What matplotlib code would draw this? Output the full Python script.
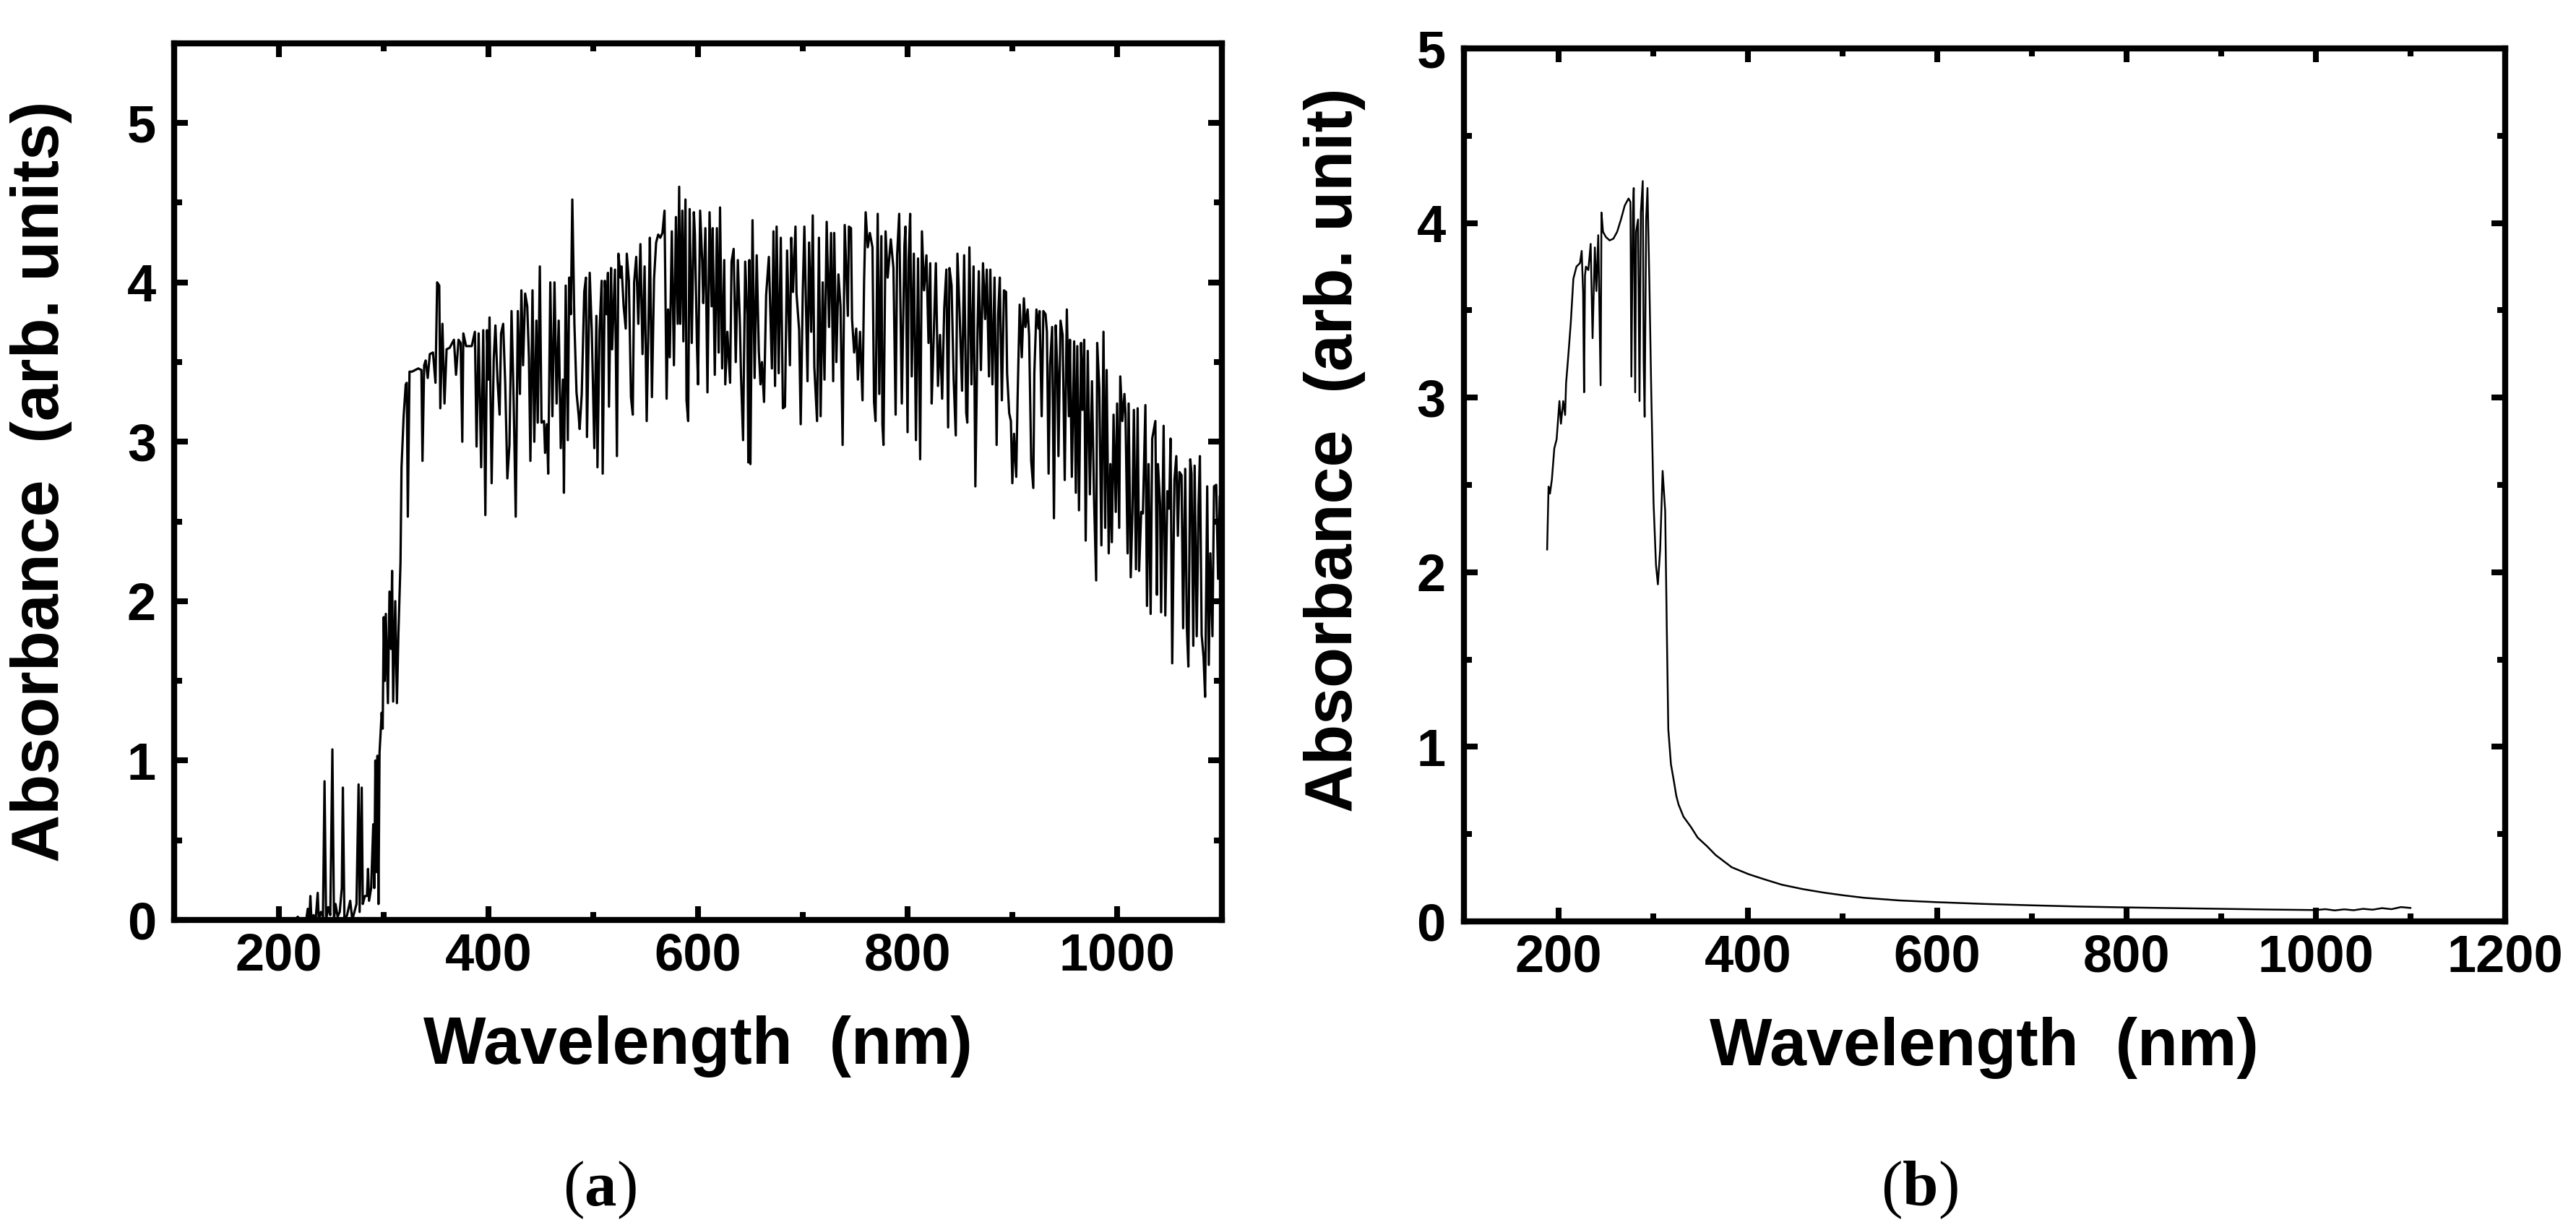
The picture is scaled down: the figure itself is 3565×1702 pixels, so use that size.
import numpy as np
import matplotlib.pyplot as plt
from matplotlib.ticker import MultipleLocator

plt.rcParams['font.family'] = ['Liberation Sans', 'DejaVu Sans']
plt.rcParams['font.weight'] = 'bold'
plt.rcParams['mathtext.fontset'] = 'custom'
plt.rcParams['mathtext.rm'] = 'Liberation Serif'
plt.rcParams['mathtext.bf'] = 'Liberation Serif:bold'

# panel (a): values (nm, absorbance)
wl_a = [215, 218, 220, 226, 227.5, 229, 230, 231, 233, 235, 237, 238, 240, 242, 243.5, 245, 247, 249,
        251, 252.5, 254, 256, 258, 260, 261, 262.5, 265, 268, 270, 272, 274, 276, 277, 279, 280, 282,
        284, 285, 286, 288, 290, 291, 292, 293, 294, 295, 296, 297,
        298, 299, 300, 301, 302, 304, 305.5, 307, 308, 309, 311, 312.6, 314, 316, 317, 319, 321, 322,
        323, 324.6, 327, 330, 333, 336, 337, 338.6, 340, 342, 344, 347, 349.4, 351, 353, 354, 356, 358,
        360, 363, 367, 369, 371.4, 373.4, 375, 376, 378.6, 381, 384, 387, 388.6, 390.6, 393, 395, 397,
        398.6, 400, 401, 403, 405, 406.6, 408.6, 410.6, 412, 414, 416, 418, 420, 422, 424, 426, 428, 430,
        431.4, 433, 435, 437, 438.6, 440, 442, 443.7, 445.7, 447, 449, 450.6, 453, 454, 455.7, 457, 459,
        461, 463, 465, 467, 469, 471, 472, 473.7, 475.7, 477, 478.6, 480, 482, 484, 486, 487, 489, 491.4,
        493, 494, 496.6, 498.6, 501, 503, 504, 506, 508, 509, 511, 512.7, 514, 515, 517, 518, 520.7,
        522.6, 524, 526, 527, 529, 531, 532, 534, 536, 537.7, 539, 541, 543, 545, 547, 549, 551, 553,
        554, 556, 558, 560, 562, 564, 566, 568, 570, 571.4, 573, 575, 577, 578.9, 580.6, 582, 583, 585,
        586, 588, 589, 590.6, 592, 594, 596, 597, 599, 600, 602, 604, 605, 607, 609, 611, 613, 614, 616,
        618, 619.7, 621, 623, 625, 626, 628, 630.6, 632, 634, 636, 638, 640, 641, 643, 645, 647, 648, 649,
        650, 652, 654, 656, 658, 659.6, 661, 663, 665, 667.6, 670.5, 672, 673.5, 675, 677, 679, 681, 683,
        685, 687.7, 689, 690.6, 693, 694, 696.5, 698, 700, 701.5, 704.5, 706, 708, 709.5, 711, 713.6,
        715.4, 717, 719, 720.7, 722.8, 725, 727, 729, 730, 732, 734, 736, 738, 740, 743, 744, 746, 747,
        749, 751, 752.6, 754.6, 757, 758.5, 760, 762, 764, 766.5, 768, 769.4, 771.5, 773, 775, 776, 777,
        779, 781, 784, 786.5, 788.6, 790, 792, 794.5, 797, 798, 800, 801, 802.5, 804, 806, 808, 810, 812,
        813.7, 815.7, 818, 820, 821.6, 823, 824.6, 827, 829, 831, 833, 835, 837, 838.7, 840, 842, 844,
        846, 847.6, 849.7, 852, 854, 856, 857, 859, 861, 863, 864.7, 866.8, 868, 870, 872, 874, 875.6,
        877.7, 879, 881, 883, 885, 886.5, 888, 890, 892, 894, 895, 897, 898.6, 900, 901.6, 903.7, 905,
        907, 909, 911, 912.5, 914.6, 916, 918, 920, 921, 923, 925, 926, 928, 929.6, 931.7, 933, 934.6,
        936, 938, 939.7, 941.4, 943, 944, 946, 948, 950, 952, 954, 955, 956.8, 959, 960.6, 962, 963.6,
        965.6, 967, 968.6, 970, 972, 974, 976, 978, 980, 981, 983, 985, 987, 988.6, 990, 992, 993.6, 995,
        996.6, 998.7, 1000, 1002, 1003, 1005, 1007, 1008, 1010, 1011, 1013, 1014.6, 1016, 1018, 1019.6,
        1021, 1023, 1024.6, 1027, 1028.5, 1030, 1032, 1033.5, 1036.5, 1038, 1039, 1041, 1042, 1044.4,
        1046, 1048, 1049.7, 1051, 1052.6, 1054.7, 1056.5, 1058, 1059.5, 1061.5, 1063, 1065, 1066.5, 1068,
        1069.8, 1071, 1072.7, 1074, 1076, 1077.7, 1079, 1080.7, 1082.5, 1084, 1086, 1087.5, 1089, 1091,
        1092.5, 1094.6, 1096.4, 1098, 1099.3, 1101]
abs_a = [0, 0.02, 0, 0, 0.07, 0, 0.15, 0, 0.03, 0, 0.17, 0, 0.05, 0.02, 0.87, 0, 0.08, 0.03,
         1.07, 0, 0.1, 0.02, 0.05, 0.2, 0.83, 0, 0.03, 0.12, 0, 0.05, 0.1, 0.85, 0.05, 0.83, 0.1, 0.15,
         0.15, 0.32, 0.12, 0.2, 0.6, 0.2, 1.0, 0.3, 1.03, 0.1, 1.05, 1.17,
         1.3, 1.2, 1.9, 1.5, 1.92, 1.36, 2.06, 1.7, 2.19, 1.37, 2.0, 1.36, 1.79, 2.24, 2.84, 3.16, 3.36, 3.37,
         2.53, 3.44, 3.44, 3.45, 3.46, 3.45, 2.88, 3.48, 3.51, 3.40, 3.55, 3.56, 3.37, 4.0, 3.98, 3.21, 3.74, 3.24,
         3.58, 3.59, 3.64, 3.42, 3.64, 3.62, 3.0, 3.68, 3.6, 3.6, 3.6, 3.69, 2.97, 3.68, 2.84, 3.7, 2.54,
         3.7, 3.39, 3.78, 2.74, 3.52, 3.73, 3.39, 3.17, 3.68, 3.74, 3.36, 2.77, 2.98, 3.82, 3.26, 2.53, 3.82, 3.3,
         3.95, 3.48, 3.93, 3.85, 3.53, 2.88, 3.95, 3.0, 3.76, 3.12, 4.1, 3.12, 3.13, 2.93, 3.11, 2.8, 4.0,
         3.16, 4.0, 3.24, 3.76, 2.96, 3.39, 2.68, 3.98, 3.01, 4.03, 3.8, 4.52, 3.74, 3.31, 3.17, 3.08, 3.3, 3.94,
         4.03, 3.03, 4.06, 3.69, 2.96, 3.79, 2.84, 3.7, 4.01, 2.8, 4.01, 3.8, 4.06, 3.22, 4.09, 3.58, 4.08,
         2.91, 4.18, 4.03, 4.1, 3.85, 3.71, 4.18, 4.01, 3.28, 3.17, 4.0, 4.16, 3.74, 4.24, 3.55, 4.1, 3.13, 3.86,
         4.28, 3.28, 4.02, 4.25, 4.3, 4.28, 4.31, 4.45, 3.27, 3.83, 3.53, 4.32, 3.48, 4.41, 3.74, 4.6, 3.74, 4.45,
         3.63, 4.52, 3.26, 3.13, 4.46, 3.62, 4.44, 4.3, 3.6, 3.36, 4.45, 4.13, 3.87, 4.34, 3.31, 4.44, 3.85, 4.34, 3.42,
         4.34, 3.56, 4.47, 3.46, 4.14, 3.36, 3.69, 3.37, 4.13, 4.21, 3.5, 4.14, 3.73, 3.42, 3.01, 4.13, 3.8, 2.87, 4.14,
         2.86, 4.39, 3.4, 4.17, 3.57, 3.36, 3.5, 3.25, 3.92, 4.16, 3.46, 4.32, 3.35, 4.35, 3.43, 4.28, 3.21, 3.22,
         4.2, 3.48, 4.28, 3.94, 4.35, 3.93, 3.7, 3.11, 3.95, 4.35, 3.38, 4.25, 3.69, 4.42, 3.47, 3.13,
         4.28, 3.16, 4.0, 3.39, 4.38, 3.72, 4.31, 3.38, 4.31, 3.5, 4.05, 3.85, 2.98, 4.36, 3.79, 4.35, 4.34, 3.77,
         3.56, 3.71, 3.39, 3.69, 3.26, 4.01, 4.44, 4.22, 4.31, 4.22, 3.25, 3.13, 4.43, 3.3, 4.29, 3.11, 2.98,
         4.32, 4.03, 4.27, 4.09, 3.17, 4.17, 4.43, 3.24, 4.23, 4.35, 3.06, 4.14, 4.43, 3.41, 4.18, 3.01, 4.15, 2.89,
         4.32, 3.95, 4.17, 3.62, 4.12, 3.24, 3.58, 4.12, 3.35, 3.67, 3.27, 3.84, 4.08, 3.09, 4.09, 3.98, 3.39,
         3.04, 4.18, 3.8, 3.32, 4.17, 3.18, 3.12, 4.22, 3.36, 4.1, 2.72, 3.71, 4.07, 3.45, 4.12, 3.77, 4.08,
         3.41, 4.08, 3.36, 4.03, 2.98, 3.8, 4.03, 3.26, 3.95, 3.94, 3.43, 3.18, 3.13, 2.74, 3.05, 2.78, 3.27,
         3.86, 3.53, 3.9, 3.72, 3.83, 3.67, 2.88, 2.71, 3.43, 3.83, 3.71, 3.82, 3.16, 3.82, 3.8, 3.69, 2.8,
         3.48, 3.72, 2.52, 3.73, 3.43, 2.91, 3.76, 3.67, 2.76, 3.83, 3.16, 3.64, 2.78, 3.63, 2.68, 3.6, 2.57,
         3.62, 3.2, 3.64, 2.38, 3.57, 2.67, 3.38, 2.64, 2.13, 3.62, 3.34, 2.35, 3.69, 2.46, 3.45, 2.3, 2.86, 2.37,
         3.17, 2.56, 3.24, 2.46, 3.41, 3.13, 3.3, 3.18, 2.3, 3.24, 2.15, 2.56, 3.2, 2.2, 3.21,
         2.19, 2.56, 2.55, 3.23, 1.97, 2.86, 1.92, 3.02, 3.13, 2.04, 2.86, 2.61, 1.93, 3.1,
         1.91, 2.69, 2.58, 3.02, 1.61, 2.76, 2.91, 2.41, 2.81, 2.79, 1.83, 2.83, 1.85, 1.59,
         2.89, 2.8, 1.72, 2.85, 1.78, 2.59, 2.91, 1.79, 1.65, 1.4, 2.72, 1.6, 2.3, 1.78,
         2.72, 2.73, 2.14, 2.66, 2.0, 2.5]

# panel (b)
wl_b = [188, 189.5, 191, 193, 195.6, 198, 201, 202.6, 205, 207, 208, 210.5, 213, 215.7, 219, 222.7,
        224.5, 226, 227, 228, 229, 231.5, 234, 236, 238.4, 240, 242, 244.5, 245.4, 247, 250, 254, 258,
        262, 266, 270, 274, 276, 277, 278.6, 279.5, 281, 282, 284, 285.6, 287, 289, 290, 291, 292.6,
        294, 296, 298, 300.4, 303, 305, 307.4, 310, 312.7, 314.4, 316, 318.8, 322, 324.4, 326.8, 332,
        340, 347, 357, 366, 383, 401, 418, 436, 458, 480, 500, 523, 560, 600, 650, 700, 750, 800, 850,
        900, 950, 1000, 1010, 1020, 1030, 1040, 1050, 1060, 1070, 1080, 1090, 1100]
abs_b = [2.13, 2.49, 2.45, 2.53, 2.71, 2.76, 2.98, 2.85, 2.98, 2.9, 3.08, 3.25, 3.43, 3.68, 3.75, 3.77,
         3.84, 3.6, 3.03, 3.7, 3.75, 3.73, 3.88, 3.34, 3.86, 3.61, 3.93, 3.07, 4.06, 3.95, 3.92, 3.9, 3.91,
         3.95, 4.02, 4.1, 4.14, 4.12, 3.12, 4.06, 4.2, 3.03, 3.95, 4.02, 2.98, 4.06, 4.24, 3.2, 2.89, 4.02,
         4.2, 3.66, 3.03, 2.4, 2.04, 1.93, 2.13, 2.58, 2.35, 1.68, 1.1, 0.9, 0.8, 0.72, 0.67, 0.6,
         0.54, 0.48, 0.43, 0.38, 0.31, 0.27, 0.24, 0.21, 0.185, 0.165, 0.15, 0.135, 0.12, 0.11, 0.1, 0.092,
         0.085, 0.08, 0.076, 0.072, 0.068, 0.065, 0.07, 0.063, 0.069, 0.064, 0.072, 0.067, 0.076, 0.07,
         0.082, 0.077]

fig = plt.figure(figsize=(35.66, 17.02), dpi=100)
ax_a = fig.add_axes([0.0676, 0.2521, 0.4066, 0.7127])
ax_b = fig.add_axes([0.5681, 0.2509, 0.4041, 0.7098])

ax_a.plot(wl_a, abs_a, color='black', lw=2.3)
ax_b.plot(wl_b, abs_b, color='black', lw=1.8)

ax_a.set_xlim(100, 1100)
ax_a.set_ylim(0, 5.5)
ax_b.set_xlim(100, 1200)
ax_b.set_ylim(0, 5)

for ax in (ax_a, ax_b):
    ax.xaxis.set_major_locator(MultipleLocator(200))
    ax.xaxis.set_minor_locator(MultipleLocator(100))
    ax.yaxis.set_major_locator(MultipleLocator(1))
    ax.yaxis.set_minor_locator(MultipleLocator(0.5))
    ax.tick_params(which='both', direction='in', top=True, right=True, width=5.8)
    ax.tick_params(which='major', length=14)
    ax.tick_params(which='minor', length=8)
    ax.tick_params(axis='x', labelsize=52, pad=12)
    ax.tick_params(axis='y', labelsize=52, pad=18)
    for s in ax.spines.values():
        s.set_linewidth(6)
    ax.set_xlabel('Wavelength  (nm)', fontsize=66, fontweight='bold', labelpad=34)

ax_a.set_xticks([200, 400, 600, 800, 1000])
ax_a.set_ylabel('Absorbance  (arb. units)', fontsize=66, fontweight='bold')
ax_a.yaxis.set_label_coords(-0.097, 0.5)
ax_b.set_ylabel('Absorbance  (arb. unit)', fontsize=66, fontweight='bold')
ax_b.yaxis.set_label_coords(-0.094, 0.54)

fig.text(0.2328, 0.02, r'($\mathbf{a}$)', fontsize=64, family='Liberation Serif',
         fontweight='normal', ha='center', va='baseline')
fig.text(0.7450, 0.02, r'($\mathbf{b}$)', fontsize=64, family='Liberation Serif',
         fontweight='normal', ha='center', va='baseline')

fig.savefig('out.png', dpi=100)
